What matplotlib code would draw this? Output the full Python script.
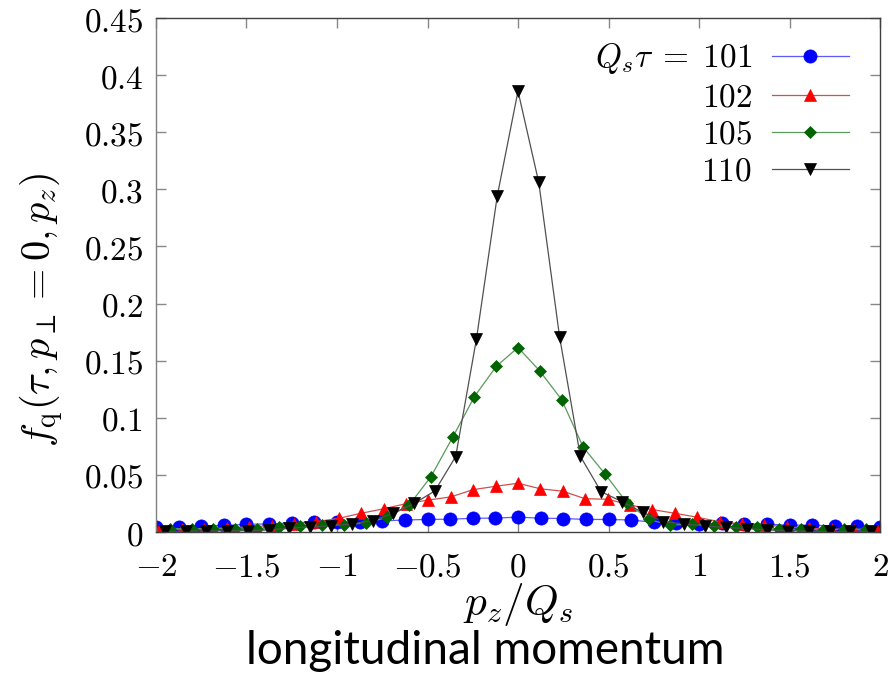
import numpy as np
import matplotlib
matplotlib.use("Agg")
import matplotlib.pyplot as plt
from matplotlib.ticker import FuncFormatter, MultipleLocator

plt.rcParams["mathtext.fontset"] = "cm"

# Longitudinal momentum grid spacing (units of Q_s) for each time slice
taus = [101, 102, 105, 110]
pz_step = [0.125, 0.1238, 0.1202, 0.1148]
n_max = [16, 16, 16, 17]

f_101 = [0.0040, 0.0046, 0.0055, 0.0057, 0.0068, 0.0070, 0.0080, 0.0088,
         0.0085, 0.0088, 0.0097, 0.0105, 0.0110, 0.0112, 0.0120, 0.0122,
         0.0130,
         0.0121, 0.0118, 0.0110, 0.0110, 0.0105, 0.0085, 0.0080, 0.0070,
         0.0075, 0.0070, 0.0068, 0.0060, 0.0060, 0.0052, 0.0050, 0.0042]

f_102 = [0.0020, 0.0025, 0.0030, 0.0035, 0.0045, 0.0055, 0.0070, 0.0090,
         0.0120, 0.0164, 0.0203, 0.0248, 0.0280, 0.0307, 0.0371, 0.0400,
         0.0427,
         0.0378, 0.0357, 0.0291, 0.0287, 0.0237, 0.0196, 0.0164, 0.0129,
         0.0090, 0.0070, 0.0061, 0.0046, 0.0032, 0.0025, 0.0020, 0.0015]

f_105 = [0.0030, 0.0026, 0.0030, 0.0026, 0.0030, 0.0042, 0.0050, 0.0060,
         0.0060, 0.0080, 0.0128, 0.0237, 0.0485, 0.0830, 0.1186, 0.1450,
         0.1615,
         0.1410, 0.1160, 0.0742, 0.0508, 0.0257, 0.0111, 0.0060, 0.0068,
         0.0055, 0.0046, 0.0040, 0.0026, 0.0024, 0.0018, 0.0026, 0.0024]

f_110 = [0.0005, 0.0008, 0.0010, 0.0010, 0.0012, 0.0018, 0.0032, 0.0046,
         0.0055, 0.0070, 0.0100, 0.0164, 0.0250, 0.0360, 0.0660, 0.1690,
         0.2940,
         0.3860,
         0.3060, 0.1710, 0.0663, 0.0353, 0.0266, 0.0172, 0.0090, 0.0070,
         0.0053, 0.0040, 0.0030, 0.0018, 0.0012, 0.0006, 0.0005, 0.0005,
         0.0005]

series = [f_101, f_102, f_105, f_110]
labels = [r"$Q_s\tau \;=\; 101$", r"$102$", r"$105$", r"$110$"]

line_colors = ["#5a5aff", "#d05050", "#5a9a5a", "#505050"]
marker_colors = ["#0000ff", "#ff0000", "#006400", "#000000"]
markers = ["o", "^", "D", "v"]
marker_sizes = [9.5, 8.5, 6.5, 9.0]

fig = plt.figure(figsize=(8.96, 6.74), dpi=100)
ax = fig.add_axes([156 / 896, 1 - 532 / 674, (880 - 156) / 896, (532 - 18) / 674])

for f, step, nm, lab, lc, mc, mk, ms in zip(series, pz_step, n_max, labels,
                                            line_colors, marker_colors,
                                            markers, marker_sizes):
    pz = np.arange(-nm, nm + 1) * step
    ax.plot(pz, f, color=lc, lw=0.9, marker=mk, ms=ms, mfc=mc, mec=mc,
            mew=0.5, label=lab, clip_on=True)

ax.set_xlim(-2, 2)
ax.set_ylim(0, 0.45)
ax.xaxis.set_major_locator(MultipleLocator(0.5))
ax.yaxis.set_major_locator(MultipleLocator(0.05))


def fmt(v, _pos):
    s = f"{v:.2f}".rstrip("0").rstrip(".")
    if s in ("-0", ""):
        s = "0"
    return "$" + s + "$"


ax.xaxis.set_major_formatter(FuncFormatter(fmt))
ax.yaxis.set_major_formatter(FuncFormatter(fmt))
ax.tick_params(direction="in", length=7, width=1, color="#888888",
               top=True, right=True, labelsize=24)
ax.tick_params(axis="y", pad=9)
ax.tick_params(axis="x", pad=13)
for sp in ax.spines.values():
    sp.set_color("#404040")
    sp.set_linewidth(1.0)
ax.spines["left"].set_color("#808080")

ax.set_ylabel(r"$f_{\rm q}(\tau, p_\perp = 0, p_z)$", fontsize=29, va="center")
ax.yaxis.set_label_coords((42 - 156) / 724, (532 - 310) / 514)
ax.set_xlabel(r"$p_z/Q_s$", fontsize=31, va="center")
ax.xaxis.set_label_coords(0.5, -(605 - 532) / 514)

leg = ax.legend(loc="upper right", markerfirst=False, frameon=False,
                fontsize=24, handlelength=2.3, handletextpad=0.6,
                labelspacing=0.12, borderaxespad=0.0,
                bbox_to_anchor=((862 - 156) / 724, (532 - 28) / 514))

fig.text(485 / 896, 1 - 651 / 674, "longitudinal momentum", ha="center",
         va="center", fontsize=33, family="Lato")

fig.savefig("out.png", dpi=100)
